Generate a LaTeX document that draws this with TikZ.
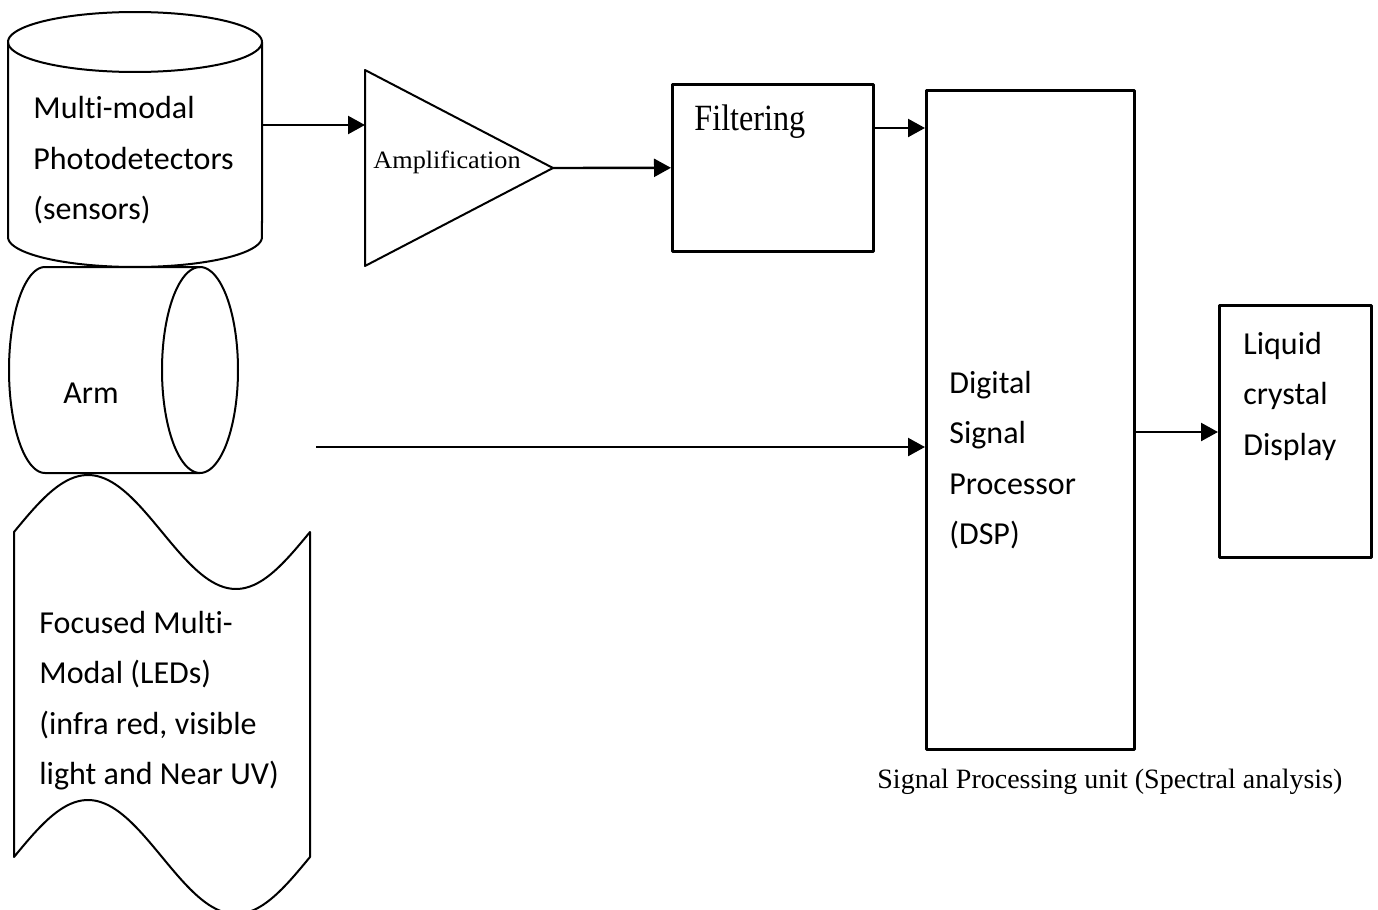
\documentclass[tikz,border=0pt]{standalone}
\usepackage{fontspec}
\setmainfont{Liberation Serif}
\newfontfamily\calfont[Ligatures=NoCommon]{Carlito}
\usetikzlibrary{arrows.meta}
\begin{document}
\begin{tikzpicture}[x=0.5pt,y=-0.5pt,line join=round,
  shp/.style={line width=1pt},
  boxs/.style={draw,line width=1.3pt,inner sep=0pt,anchor=north west},
  arr/.style={line width=1.2pt,-{Triangle[length=8.5pt,width=9pt]}},
  cal/.style={font=\calfont\fontsize{16}{25.25}\selectfont,execute at begin node={\spaceskip=0.23em\relax},inner sep=0pt,anchor=base west,text width=200pt,align=left},
  tms/.style={inner sep=0pt,anchor=base west}]
\useasboundingbox (0,0) rectangle (1378,910);
% photodetector cylinder
\draw[shp] plot[domain=0:360,samples=100,smooth] ({135+127*cos(\x)},{42+30*sin(\x)});
\draw[shp] (8,42) -- (8,237) -- plot[domain=180:360,samples=60,smooth] ({135+127*cos(\x)},{237-30*sin(\x)}) -- (262,42);
\coordinate (cyl) at (262,125);
\node[cal] (cyltxt) at (33,119) {Multi-modal\\Photodetectors\\(sensors)};
% arm cylinder
\draw[shp] (200,267) -- (45,267) -- plot[domain=90:270,samples=60,smooth] ({45+36*cos(\x)},{370-103*sin(\x)}) -- (200,473);
\draw[shp] plot[domain=0:360,samples=100,smooth] ({200+38*cos(\x)},{370+103*sin(\x)});
\node[cal] (armtxt) at (63,403) {Arm};
% LED tape
\draw[shp] plot[domain=14:310,samples=80,smooth] (\x,{532-57*sin(1.21622*(\x-14))}) -- (310,857) -- plot[domain=310:14,samples=80,smooth] (\x,{857-57*sin(1.21622*(\x-14))}) -- cycle;
\node[cal] (ledtxt) at (39,633) {Focused Multi-\\Modal (LEDs)\\(infra red, visible\\light and Near UV)};
\coordinate (armout) at (316,447);
% amplifier
\coordinate (tl) at (365,70);
\coordinate (tb) at (365,266);
\coordinate (apex) at (553,168);
\draw[shp] (tl) -- (apex) -- (tb) -- cycle;
\node[tms,font=\fontsize{12.5}{15}\selectfont] (amptxt) at (373,168) {\scalebox{1.05}[1]{Amplification}};
% filtering
\node[boxs,minimum width=100.5pt,minimum height=83.5pt] (filt) at (671,83) {};
\node[tms,font=\fontsize{18.5}{20}\selectfont] (filttxt) at (694,130) {\scalebox{0.87}[1]{Filtering}};
\coordinate (f3) at (872,128);
% DSP
\node[boxs,minimum width=104pt,minimum height=329.5pt] (dsp) at (925,89) {};
\node[cal] (dsptxt) at (949,393) {Digital\\Signal\\Processor\\(DSP)};
\coordinate (d5) at (1133,432);
% LCD
\node[boxs,minimum width=76pt,minimum height=126pt] (lcd) at (1218,304) {};
\node[cal] (lcdtxt) at (1243,354) {Liquid\\crystal\\Display};
% caption
\node[tms,font=\fontsize{14}{16}\selectfont] (cap) at (877,788) {Signal Processing unit (Spectral analysis)};
% connectors
\draw[arr] (cyl) -- (tl |- cyl);
\draw[arr] (apex) -- (filt.west);
\draw[arr] (f3) -- (dsp.west |- f3);
\draw[arr] (armout) -- (dsp.west |- armout);
\draw[arr] (d5) -- (lcd.west |- d5);
\end{tikzpicture}
\end{document}
